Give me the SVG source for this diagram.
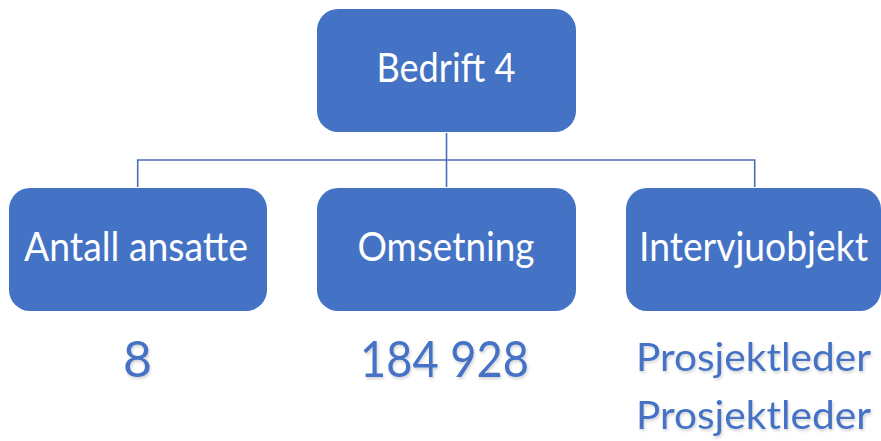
<svg xmlns="http://www.w3.org/2000/svg" width="881" height="441" viewBox="0 0 881 441">
  <defs>
    <style>
      .box { fill: #4472C4; }
      .lbl { fill: #FFFFFF; font-family: Lato, "Open Sans", "Liberation Sans", sans-serif; font-size: 40px; text-anchor: middle; }
      .val { fill: #4472C4; font-family: Lato, "Open Sans", "Liberation Sans", sans-serif; text-anchor: middle; filter: url(#soft); }
      .link { fill: none; stroke: #4A6FB5; stroke-width: 1.6; }
    </style>
    <filter id="soft" x="-10%" y="-20%" width="120%" height="150%">
      <feDropShadow dx="1" dy="2" stdDeviation="1.5" flood-color="#000000" flood-opacity="0.18"/>
    </filter>
  </defs>

  <rect width="881" height="441" fill="#FFFFFF"/>

  <!-- tree connectors -->
  <g id="connectors">
    <path class="link" d="M446.5 133 V187"/>
    <path class="link" d="M137.7 187 V160 H754.7 V187"/>
  </g>

  <g id="node-bedrift">
    <rect class="box" x="317" y="9" width="259" height="123" rx="21"/>
    <text class="lbl" x="446" y="82" textLength="139" lengthAdjust="spacingAndGlyphs">Bedrift 4</text>
  </g>

  <g id="node-ansatte">
    <rect class="box" x="9" y="188" width="258" height="123" rx="21"/>
    <text class="lbl" x="136" y="261" textLength="224" lengthAdjust="spacingAndGlyphs">Antall ansatte</text>
  </g>

  <g id="node-omsetning">
    <rect class="box" x="317" y="188" width="259" height="123" rx="21"/>
    <text class="lbl" x="446" y="261" textLength="177" lengthAdjust="spacingAndGlyphs">Omsetning</text>
  </g>

  <g id="node-intervju">
    <rect class="box" x="626" y="188" width="255" height="123" rx="21"/>
    <text class="lbl" x="753.5" y="261" textLength="229" lengthAdjust="spacingAndGlyphs">Intervjuobjekt</text>
  </g>

  <!-- values beneath each node -->
  <g id="values">
    <text class="val" x="137.5" y="377" font-size="50">8</text>
    <text class="val" x="444.5" y="377" font-size="50" textLength="169" lengthAdjust="spacingAndGlyphs">184 928</text>
    <text class="val" x="753.5" y="371" font-size="39" textLength="235" lengthAdjust="spacingAndGlyphs">Prosjektleder</text>
    <text class="val" x="753.5" y="429" font-size="39" textLength="235" lengthAdjust="spacingAndGlyphs">Prosjektleder</text>
  </g>
</svg>
